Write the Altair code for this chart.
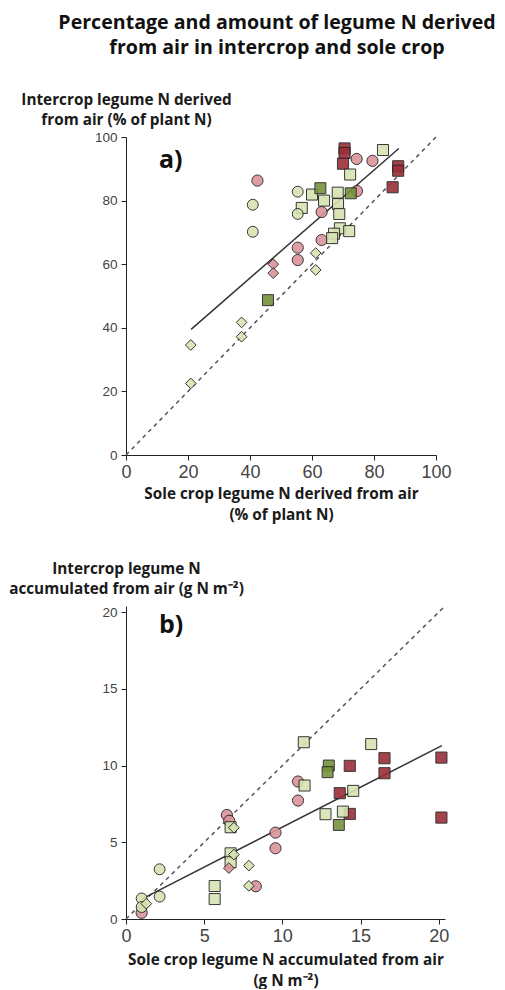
import altair as alt
import pandas as pd

# ---------------- Panel a: % of plant N derived from air ----------------
a_pink_circle_x = [42.4, 74.4, 79.5, 74.5, 63.1, 63.1, 55.4, 55.4]
a_pink_circle_y = [86.3, 93.1, 92.5, 83.0, 76.4, 67.6, 65.2, 61.3]
a_darkred_square_x = [70.5, 70.5, 70.0, 87.8, 87.8, 86.0]
a_darkred_square_y = [96.4, 95.0, 91.6, 90.8, 89.4, 84.2]
a_lightgreen_square_x = [82.9, 72.3, 60.0, 68.3, 56.7, 63.9, 68.4, 68.8, 69.0, 67.1, 72.0, 66.5]
a_lightgreen_square_y = [95.9, 88.2, 81.9, 82.5, 77.7, 80.0, 78.9, 75.8, 71.3, 69.6, 70.4, 68.2]
a_darkgreen_square_x = [62.7, 72.5, 45.8]
a_darkgreen_square_y = [83.9, 82.3, 48.7]
a_lightgreen_circle_x = [40.9, 40.9, 55.4, 55.4]
a_lightgreen_circle_y = [78.7, 70.2, 82.8, 75.8]
a_pink_diamond_x = [47.5, 47.5]
a_pink_diamond_y = [60.0, 57.2]
a_lightgreen_diamond_x = [61.2, 61.2, 37.3, 37.3, 20.9, 20.9]
a_lightgreen_diamond_y = [63.5, 58.2, 41.7, 37.2, 34.6, 22.5]
a_fit_x = [21.0, 88.0]
a_fit_y = [39.5, 96.4]
a_one_to_one = [0, 100]
a_ticks = [0, 20, 40, 60, 80, 100]

# ---------------- Panel b: g N m-2 accumulated from air ----------------
b_pink_circle_x = [11.0, 11.0, 6.45, 6.6, 9.56, 9.56, 8.3, 1.0]
b_pink_circle_y = [8.96, 7.72, 6.78, 6.4, 5.63, 4.61, 2.13, 0.4]
b_darkred_square_x = [16.53, 20.17, 14.31, 16.53, 13.67, 14.31, 20.17]
b_darkred_square_y = [10.48, 10.52, 9.98, 9.5, 8.2, 6.85, 6.61]
b_lightgreen_square_x = [11.37, 15.68, 11.42, 14.53, 12.76, 13.87, 6.69, 6.69, 6.69, 5.67, 5.67]
b_lightgreen_square_y = [11.52, 11.4, 8.7, 8.35, 6.83, 7.0, 5.98, 4.28, 3.7, 2.15, 1.3]
b_darkgreen_square_x = [12.97, 12.89, 13.61]
b_darkgreen_square_y = [10.0, 9.57, 6.13]
b_lightgreen_circle_x = [2.15, 2.15, 1.0, 1.0]
b_lightgreen_circle_y = [3.24, 1.46, 1.34, 0.78]
b_pink_diamond_x = [6.58]
b_pink_diamond_y = [3.32]
b_lightgreen_diamond_x = [6.9, 6.9, 7.86, 7.86, 1.3]
b_lightgreen_diamond_y = [5.95, 4.2, 3.48, 2.16, 1.0]
b_fit_x = [1.0, 20.2]
b_fit_y = [1.3, 11.3]
b_one_to_one = [0, 20.4]
b_ticks = [0, 5, 10, 15, 20]

main_title = "Percentage and amount of legume N derived\nfrom air in intercrop and sole crop"

groups = ["pink circle", "dark red square", "light green square", "dark green square",
          "light green circle", "pink diamond", "light green diamond"]
group_shapes = ["circle", "square", "square", "square", "circle", "diamond", "diamond"]
group_colors = ["#da939a", "#9b2f38", "#d6e3b2", "#77923c", "#d6e3b2", "#da939a", "#d6e3b2"]
group_sizes = [125, 115, 115, 115, 125, 185, 185]


def points_df(series):
    rows = []
    for g, (xs, ys) in zip(groups, series):
        for xv, yv in zip(xs, ys):
            rows.append({"x": xv, "y": yv, "g": g})
    return pd.DataFrame(rows)


a_df = points_df([
    (a_pink_circle_x, a_pink_circle_y), (a_darkred_square_x, a_darkred_square_y),
    (a_lightgreen_square_x, a_lightgreen_square_y), (a_darkgreen_square_x, a_darkgreen_square_y),
    (a_lightgreen_circle_x, a_lightgreen_circle_y), (a_pink_diamond_x, a_pink_diamond_y),
    (a_lightgreen_diamond_x, a_lightgreen_diamond_y)])
b_df = points_df([
    (b_pink_circle_x, b_pink_circle_y), (b_darkred_square_x, b_darkred_square_y),
    (b_lightgreen_square_x, b_lightgreen_square_y), (b_darkgreen_square_x, b_darkgreen_square_y),
    (b_lightgreen_circle_x, b_lightgreen_circle_y), (b_pink_diamond_x, b_pink_diamond_y),
    (b_lightgreen_diamond_x, b_lightgreen_diamond_y)])

TITLE_FONT = "Open Sans"
LABEL_FONT = "Liberation Sans"


def panel(df, fit_x, fit_y, diag, ticks, w, h, xtitle, ytitle, label, ytitle_y, label_y,
          xtitle_y, extra=None):
    dom = [diag[0], diag[1]]
    xs = alt.Scale(domain=dom, nice=False, zero=True)
    ys = alt.Scale(domain=dom, nice=False, zero=True)
    xaxis = alt.Axis(values=ticks, title=xtitle, grid=False, domainColor="#222", tickColor="#222",
                     tickSize=5, labelFont=LABEL_FONT, labelFontSize=18, labelColor="#444",
                     labelPadding=3, titleFont=TITLE_FONT, titleFontWeight="bold", titleFontSize=15.3,
                     titleColor="#1a1a1a", titleAngle=0, titleAlign="center", titleBaseline="alphabetic",
                     titleX=w / 2, titleY=xtitle_y, titleLineHeight=21, labelFlush=False)
    yaxis = alt.Axis(values=ticks, title=ytitle, grid=False, domainColor="#222", tickColor="#222",
                     tickSize=5, labelFont=LABEL_FONT, labelFontSize=13.5, labelColor="#444",
                     labelPadding=4, titleFont=TITLE_FONT, titleFontWeight="bold", titleFontSize=15.3,
                     titleColor="#1a1a1a", titleAngle=0, titleAlign="center", titleBaseline="alphabetic",
                     titleX=0, titleY=ytitle_y, titleLineHeight=20, labelFlush=False)
    diag_df = pd.DataFrame({"x": diag, "y": diag})
    fit_df = pd.DataFrame({"x": fit_x, "y": fit_y})
    d = alt.Chart(diag_df).mark_line(strokeDash=[4, 4], color="#555", strokeWidth=1.5).encode(
        x=alt.X("x:Q", scale=xs, axis=xaxis), y=alt.Y("y:Q", scale=ys, axis=yaxis))
    f = alt.Chart(fit_df).mark_line(color="#333", strokeWidth=1.5).encode(x="x:Q", y="y:Q")
    p = alt.Chart(df).mark_point(filled=True, stroke="#222", strokeWidth=1, opacity=0.9).encode(
        x="x:Q", y="y:Q",
        shape=alt.Shape("g:N", scale=alt.Scale(domain=groups, range=group_shapes), legend=None),
        color=alt.Color("g:N", scale=alt.Scale(domain=groups, range=group_colors), legend=None),
        size=alt.Size("g:O", scale=alt.Scale(domain=groups, range=group_sizes), legend=None))
    t = alt.Chart(pd.DataFrame({"label": [label]})).mark_text(
        font=TITLE_FONT, fontWeight="bold", fontSize=25, align="left", baseline="alphabetic",
        color="#111").encode(x=alt.value(33), y=alt.value(label_y), text="label:N")
    layers = [d, f, p, t]
    if extra is not None:
        layers.append(extra)
    return alt.layer(*layers).properties(width=w, height=h)


title_layer = alt.Chart(pd.DataFrame({"t": [main_title]})).mark_text(
    font=TITLE_FONT, fontWeight="bold", fontSize=19.6, align="center", baseline="alphabetic",
    lineBreak="\n", lineHeight=25, color="#111").encode(
    x=alt.value(151), y=alt.value(-108), text="t:N")

pa = panel(a_df, a_fit_x, a_fit_y, a_one_to_one, a_ticks, 310, 318,
           ["Sole crop legume N derived from air", "(% of plant N)"],
           ["Intercrop legume N derived", "from air (% of plant N)"], "a)", -33, 31, 43,
           extra=title_layer)
pb = panel(b_df, b_fit_x, b_fit_y, b_one_to_one, b_ticks, 319, 313,
           ["Sole crop legume N accumulated from air", "(g N m\u207b\u00b2)"],
           ["Intercrop legume N", "accumulated from air (g N m\u207b\u00b2)"], "b)", -33, 27, 45)

chart = alt.vconcat(pa, pb, spacing=38).properties(
    padding={"left": 0, "top": 5, "right": 0, "bottom": 0}
).configure(background="white", view=alt.ViewConfig(stroke=None))

chart.save("out.html", embed_options={"renderer": "svg", "actions": False})
